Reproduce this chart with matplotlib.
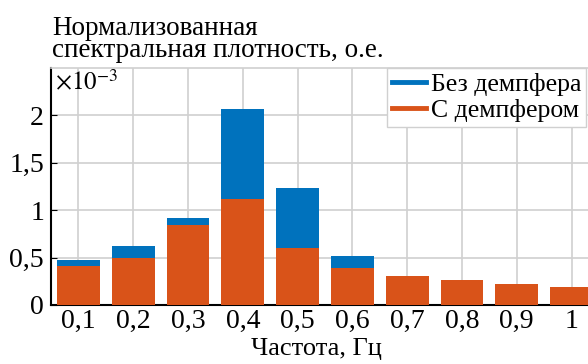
import matplotlib
matplotlib.use("Agg")
import matplotlib.pyplot as plt
from matplotlib.lines import Line2D
import numpy as np

# Data (spectral density, units of 1e-3)
freqs = [0.1, 0.2, 0.3, 0.4, 0.5, 0.6, 0.7, 0.8, 0.9, 1.0]
freq_labels = ["0,1", "0,2", "0,3", "0,4", "0,5", "0,6", "0,7", "0,8", "0,9", "1"]
no_damper = [0.47, 0.62, 0.92, 2.07, 1.235, 0.515, 0.31, 0.26, 0.22, 0.19]
with_damper = [0.41, 0.50, 0.84, 1.12, 0.60, 0.39, 0.31, 0.26, 0.22, 0.19]
ytick_vals = [0, 0.5, 1, 1.5, 2]
ytick_labels = ["0", "0,5", "1", "1,5", "2"]

blue = "#0072BD"
orange = "#D95319"

plt.rcParams["font.family"] = ["Liberation Serif", "DejaVu Serif"]
plt.rcParams["mathtext.fontset"] = "stix"

W, H = 588, 364
fig = plt.figure(figsize=(W / 100, H / 100), dpi=100)
x0, x1, y0, y1 = 51, 599, 68, 305
ax = fig.add_axes([x0 / W, 1 - y1 / H, (x1 - x0) / W, (y1 - y0) / H])

ax.bar(freqs, no_damper, width=0.078, color=blue, zorder=2)
ax.bar(freqs, with_damper, width=0.078, color=orange, zorder=3)

ax.set_xlim(0.05, 1.05)
ax.set_ylim(0, 2.5)
ax.set_xticks(freqs)
ax.set_xticklabels(freq_labels, fontsize=20)
ax.set_yticks(ytick_vals)
ax.set_yticklabels(ytick_labels, fontsize=20)
ax.tick_params(direction="in", length=4, width=0.8, pad=5)
ax.tick_params(axis="x", pad=3)
ax.grid(True, color="#d0d0d0", linewidth=1.2, zorder=0)
ax.set_axisbelow(True)

ax.spines["right"].set_visible(False)
ax.spines["top"].set_color("#d0d0d0")
ax.spines["top"].set_linewidth(1.2)
ax.spines["left"].set_linewidth(1.5)
ax.spines["bottom"].set_linewidth(1.5)

ax.set_xlabel("Частота, Гц", fontsize=19, labelpad=0)
ax.xaxis.set_label_coords(0.5 - 9 / (x1 - x0), -0.14)
ax.xaxis.label.set_va("top")

ax.text(0.008, 0.99, r"$\times10^{-3}$", transform=ax.transAxes,
        fontsize=18, va="top", ha="left")

fig.text(52 / W, 1 - 16 / H, "Нормализованная\nспектральная плотность, о.е.",
         fontsize=19.5, va="top", ha="left", linespacing=0.85)

handles = [Line2D([], [], color=blue, lw=3.5), Line2D([], [], color=orange, lw=3.5)]
leg = ax.legend(handles, ["Без демпфера", "С демпфером"], loc="upper left",
                bbox_to_anchor=((387 - x0) / (x1 - x0), 1.0), borderaxespad=0,
                fontsize=18.5, handlelength=1.3, handletextpad=0.2, borderpad=0.2,
                labelspacing=0.12, fancybox=False, framealpha=1, edgecolor="#d0d0d0")
leg.get_frame().set_linewidth(1.0)

fig.savefig("out.png", dpi=100)
